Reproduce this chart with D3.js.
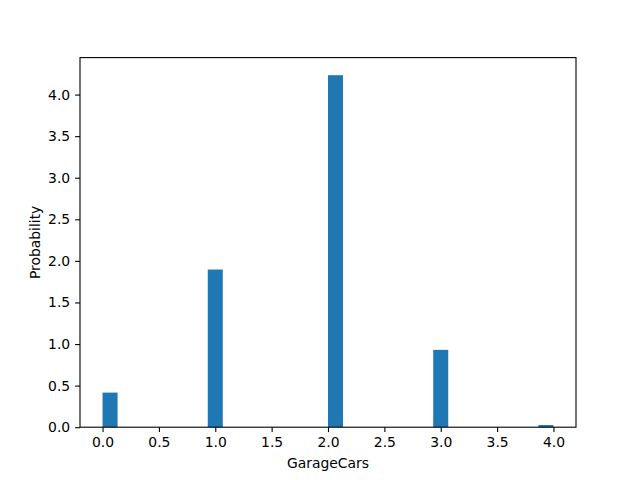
<!DOCTYPE html>
<html><head><meta charset="utf-8">
<script src="https://d3js.org/d3.v7.min.js"></script>
<style>body{margin:0;background:#fff}svg{display:block}text{font-family:"DejaVu Sans",sans-serif}</style>
</head><body>
<script>
const binMin = 0, binMax = 4, nBins = 30;
// density for each of the 30 bins (matplotlib hist, density=True)
const densities = [0.416,0,0,0,0,0,0,1.896,0,0,0,0,0,0,0,4.233,0,0,0,0,0,0,0.930,0,0,0,0,0,0,0.026];
const xTicks = [0.0,0.5,1.0,1.5,2.0,2.5,3.0,3.5,4.0];
const yTicks = [0.0,0.5,1.0,1.5,2.0,2.5,3.0,3.5,4.0];
const xLabel = "GarageCars", yLabel = "Probability";

const W=640,H=480, L=80, R=576, T=57.6, B=427.2;
const svg=d3.select("body").append("svg").attr("width",W).attr("height",H);
const bw=(binMax-binMin)/nBins;
const bins=densities.map((v,i)=>({x0:binMin+i*bw,x1:binMin+(i+1)*bw,v}));
const span=binMax-binMin;
const x=d3.scaleLinear().domain([binMin-0.05*span,binMax+0.05*span]).range([L,R]);
const ymax=d3.max(densities)*1.05;
const y=d3.scaleLinear().domain([0,ymax]).range([B,T]);

svg.append("g").selectAll("rect").data(bins.filter(d=>d.v>0)).join("rect")
 .attr("x",d=>x(d.x0)).attr("width",d=>x(d.x1)-x(d.x0))
 .attr("y",d=>y(d.v)).attr("height",d=>y(0)-y(d.v)).attr("fill","#1f77b4");

const fs=13.9;
const xa=svg.append("g").attr("transform",`translate(0,${B})`)
 .call(d3.axisBottom(x).tickValues(xTicks).tickFormat(d3.format(".1f")).tickSize(4.9).tickPadding(4.9));
const ya=svg.append("g").attr("transform",`translate(${L},0)`)
 .call(d3.axisLeft(y).tickValues(yTicks).tickFormat(d3.format(".1f")).tickSize(4.9).tickPadding(4.9));
[xa,ya].forEach(a=>{a.select(".domain").remove();a.selectAll("line").attr("stroke","#000").attr("stroke-width",1.1);
 a.selectAll("text").attr("font-size",fs).attr("fill","#000").attr("font-family","DejaVu Sans");});
svg.append("rect").attr("x",L).attr("y",T).attr("width",R-L).attr("height",B-T)
 .attr("fill","none").attr("stroke","#000").attr("stroke-width",1.1);
svg.append("text").attr("x",(L+R)/2).attr("y",468).attr("text-anchor","middle").attr("font-size",fs).text(xLabel);
svg.append("text").attr("transform",`translate(40,${(T+B)/2}) rotate(-90)`).attr("text-anchor","middle").attr("font-size",fs).text(yLabel);
</script>
</body></html>
